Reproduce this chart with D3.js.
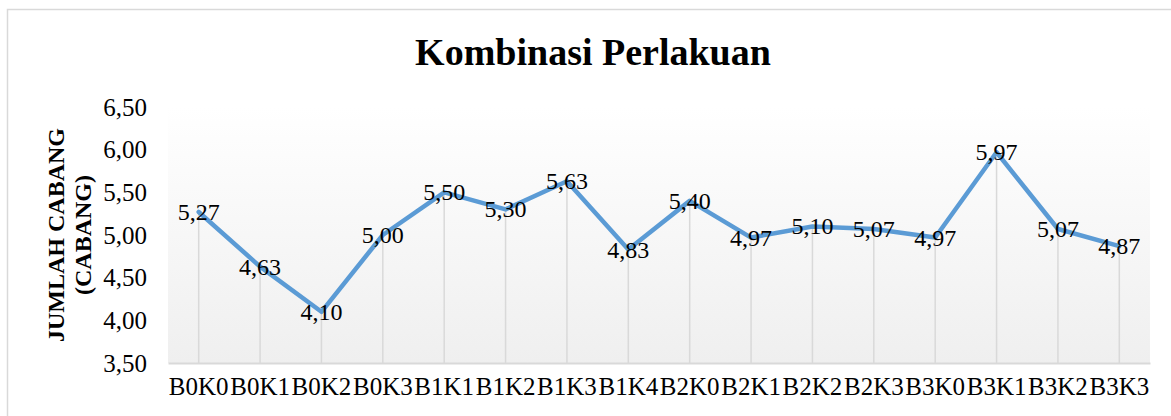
<!DOCTYPE html>
<html>
<head>
<meta charset="utf-8">
<script src="https://cdn.jsdelivr.net/npm/d3@7"></script>
<style>
  html, body { margin: 0; padding: 0; background: #fff; }
  svg { display: block; font-family: "Liberation Serif", "Times New Roman", serif; }
</style>
</head>
<body>
<div id="chart"></div>
<script>
// kombinasi perlakuan vs jumlah cabang
const categories = ["B0K0", "B0K1", "B0K2", "B0K3", "B1K1", "B1K2", "B1K3", "B1K4",
  "B2K0", "B2K1", "B2K2", "B2K3", "B3K0", "B3K1", "B3K2", "B3K3"];
const values = [5.27, 4.63, 4.10, 5.00, 5.50, 5.30, 5.63, 4.83,
  5.40, 4.97, 5.10, 5.07, 4.97, 5.97, 5.07, 4.87];
const yTicks = [3.5, 4.0, 4.5, 5.0, 5.5, 6.0, 6.5];

const W = 1171, H = 416;
const MARGIN = { top: 107, right: 21, bottom: 53, left: 168 };
const innerW = W - MARGIN.left - MARGIN.right;
const innerH = H - MARGIN.top - MARGIN.bottom;
const fmt = (v) => v.toFixed(2).replace(".", ",");
const SERIF = "Liberation Serif, Times New Roman, serif";

const svg = d3.select("#chart").append("svg").attr("width", W).attr("height", H);

const defs = svg.append("defs");
const grad = defs.append("linearGradient").attr("id", "bg").attr("x1", 0).attr("y1", 0).attr("x2", 0).attr("y2", 1);
grad.append("stop").attr("offset", "0%").attr("stop-color", "#ffffff");
grad.append("stop").attr("offset", "100%").attr("stop-color", "#efefef");

// bingkai chart (kanan & bawah terpotong)
svg.append("rect")
  .attr("x", 7.5).attr("y", 9.5)
  .attr("width", W + 20).attr("height", H + 20)
  .attr("fill", "#fff").attr("stroke", "#d9d9d9").attr("stroke-width", 1.5);

svg.append("text")
  .attr("x", 593).attr("y", 65)
  .attr("text-anchor", "middle")
  .attr("font-size", 38).attr("font-weight", 700)
  .text("Kombinasi Perlakuan");

const g = svg.append("g").attr("transform", `translate(${MARGIN.left},${MARGIN.top})`);

const x = d3.scaleBand().domain(categories).range([0, innerW]);
const y = d3.scaleLinear().domain([3.5, 6.5]).range([innerH, 0]);
const cx = (c) => x(c) + x.bandwidth() / 2;

g.append("rect").attr("x", 0).attr("y", 0).attr("width", innerW).attr("height", innerH).attr("fill", "url(#bg)");

// garis jatuh
g.selectAll("line.drop")
  .data(values)
  .join("line")
  .attr("class", "drop")
  .attr("x1", (d, i) => cx(categories[i]))
  .attr("x2", (d, i) => cx(categories[i]))
  .attr("y1", (d) => y(d))
  .attr("y2", innerH)
  .attr("stroke", "#d9d9d9")
  .attr("stroke-width", 1.5);

const yAxis = g.append("g").call(d3.axisLeft(y).tickValues(yTicks).tickFormat(fmt).tickSize(0).tickPadding(21));
yAxis.select(".domain").remove();
yAxis.selectAll("text").attr("font-family", SERIF).attr("font-size", 25).attr("fill", "#000");

const xAxis = g.append("g").attr("transform", `translate(0,${innerH})`).call(d3.axisBottom(x).tickSize(0).tickPadding(14));
xAxis.select(".domain").attr("stroke", "#d9d9d9").attr("stroke-width", 2);
xAxis.selectAll("text").attr("font-family", SERIF).attr("font-size", 25).attr("fill", "#000");

const line = d3.line().x((d, i) => cx(categories[i])).y((d) => y(d));
g.append("path")
  .datum(values)
  .attr("fill", "none")
  .attr("stroke", "#5b9bd5")
  .attr("stroke-width", 4.5)
  .attr("stroke-linejoin", "round")
  .attr("stroke-linecap", "round")
  .attr("d", line);

g.selectAll("text.lbl")
  .data(values)
  .join("text")
  .attr("class", "lbl")
  .attr("x", (d, i) => cx(categories[i]))
  .attr("y", (d) => y(d) + 8)
  .attr("text-anchor", "middle")
  .attr("font-size", 24)
  .attr("fill", "#000")
  .text(fmt);

const ty = MARGIN.top + innerH / 2;
const yTitle = svg.append("text")
  .attr("transform", `translate(64,${ty}) rotate(-90)`)
  .attr("text-anchor", "middle")
  .attr("font-size", 24).attr("font-weight", 700);
yTitle.append("tspan").attr("x", 0).attr("dy", 0).text("JUMLAH CABANG");
yTitle.append("tspan").attr("x", 0).attr("dy", 27).text("(CABANG)");
</script>
</body>
</html>
